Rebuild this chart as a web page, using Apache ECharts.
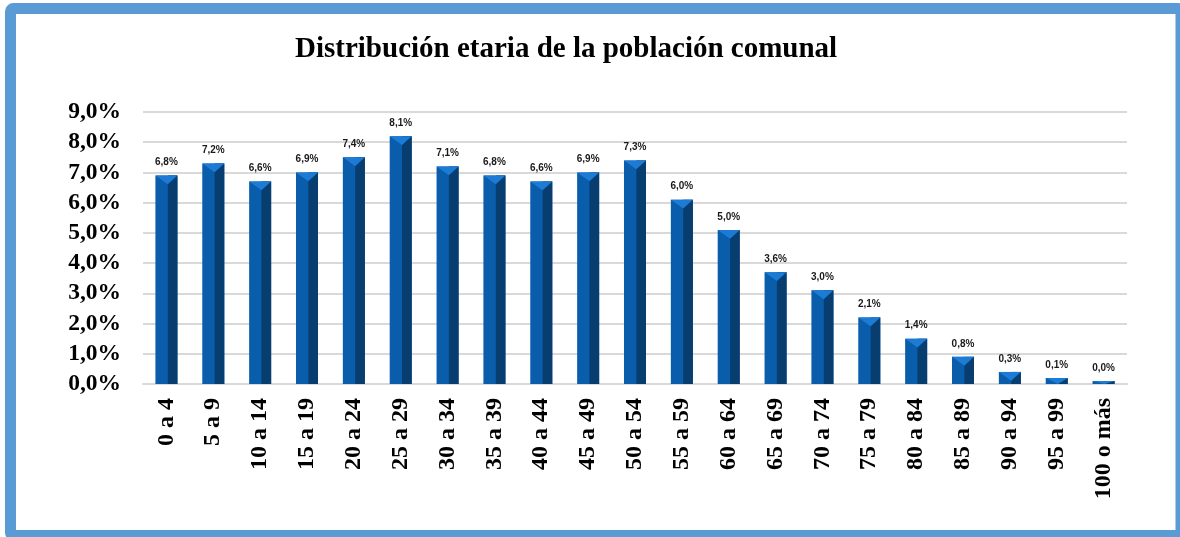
<!DOCTYPE html>
<html>
<head>
<meta charset="utf-8">
<script src="https://cdn.jsdelivr.net/npm/echarts@6/dist/echarts.min.js"></script>
<style>
  html, body { margin: 0; padding: 0; background: #fff; }
  #main { width: 1180px; height: 537px; }
</style>
</head>
<body>
<div id="main"></div>
<script>
var categories = ['0 a 4', '5 a 9', '10 a 14', '15 a 19', '20 a 24', '25 a 29', '30 a 34',
    '35 a 39', '40 a 44', '45 a 49', '50 a 54', '55 a 59', '60 a 64', '65 a 69', '70 a 74',
    '75 a 79', '80 a 84', '85 a 89', '90 a 94', '95 a 99', '100 o más'];
var values = [6.8, 7.2, 6.6, 6.9, 7.4, 8.1, 7.1, 6.8, 6.6, 6.9, 7.3, 6.0, 5.0, 3.6, 3.0,
    2.1, 1.4, 0.8, 0.3, 0.1, 0.0];

function pct(v) {
    return v.toFixed(1).replace('.', ',') + '%';
}

var chartDom = document.getElementById('main');
var myChart = echarts.init(chartDom);
var option;

// bar with a fake 3D bevel like the spreadsheet original
function renderBar(params, api) {
    var idx = api.value(0);
    var v = api.value(1);
    var base = api.coord([idx, 0]);
    var top = api.coord([idx, v]);
    var w = api.size([1, 0])[0] * 0.47;
    var x0 = base[0] - w / 2;
    var x1 = base[0] + w / 2;
    var xm = x0 + w * 0.56;
    var yb = base[1];
    var yt = top[1] - 3;
    var tri = Math.min(w * 0.4, yb - yt);
    return {
        type: 'group',
        children: [
            {
                type: 'rect',
                shape: { x: x0, y: yt, width: w, height: yb - yt },
                style: { fill: '#0A5DAA' }
            },
            {
                type: 'rect',
                shape: { x: xm, y: yt, width: x1 - xm, height: yb - yt },
                style: { fill: '#083D70' }
            },
            {
                type: 'polygon',
                shape: { points: [[x0, yt], [x1, yt], [xm, yt + tri]] },
                style: { fill: '#1C7BD5' }
            },
            {
                type: 'text',
                x: base[0],
                y: yt - 8,
                style: {
                    text: pct(v),
                    align: 'center',
                    verticalAlign: 'bottom',
                    fill: '#1a1a1a',
                    font: 'bold 10px "Liberation Sans", Arial, sans-serif'
                }
            }
        ]
    };
}

option = {
    backgroundColor: '#fff',
    title: {
        text: 'Distribución etaria de la población comunal',
        left: 290,
        top: 30,
        textStyle: {
            fontFamily: '"Liberation Serif", "Times New Roman", serif',
            fontWeight: 'bold',
            fontSize: 29,
            color: '#000'
        }
    },
    graphic: [
        {
            type: 'rect',
            silent: true,
            shape: { x: 10.5, y: 8.5, width: 1170.5, height: 527, r: 3 },
            style: { fill: 'none', stroke: '#5B9BD5', lineWidth: 11 }
        }
    ],
    grid: {
        left: 143,
        right: 53,
        top: 112,
        bottom: 153
    },
    xAxis: {
        type: 'category',
        data: categories,
        axisTick: { show: false },
        axisLine: { lineStyle: { color: '#D9D9D9', width: 2 } },
        axisLabel: {
            rotate: 90,
            margin: 14,
            interval: 0,
            color: '#000',
            fontFamily: '"Liberation Serif", "Times New Roman", serif',
            fontWeight: 'bold',
            fontSize: 24
        }
    },
    yAxis: {
        type: 'value',
        min: 0,
        max: 9,
        interval: 1,
        axisLine: { show: false },
        axisTick: { show: false },
        splitLine: { lineStyle: { color: '#D9D9D9', width: 2 } },
        axisLabel: {
            margin: 22,
            color: '#000',
            fontFamily: '"Liberation Serif", "Times New Roman", serif',
            fontWeight: 'bold',
            fontSize: 23.5,
            formatter: function (v) { return pct(v); }
        }
    },
    series: [
        {
            name: 'Población',
            type: 'custom',
            renderItem: renderBar,
            data: values.map(function (v, i) { return [i, v]; })
        }
    ]
};

option && myChart.setOption(option);
</script>
</body>
</html>
